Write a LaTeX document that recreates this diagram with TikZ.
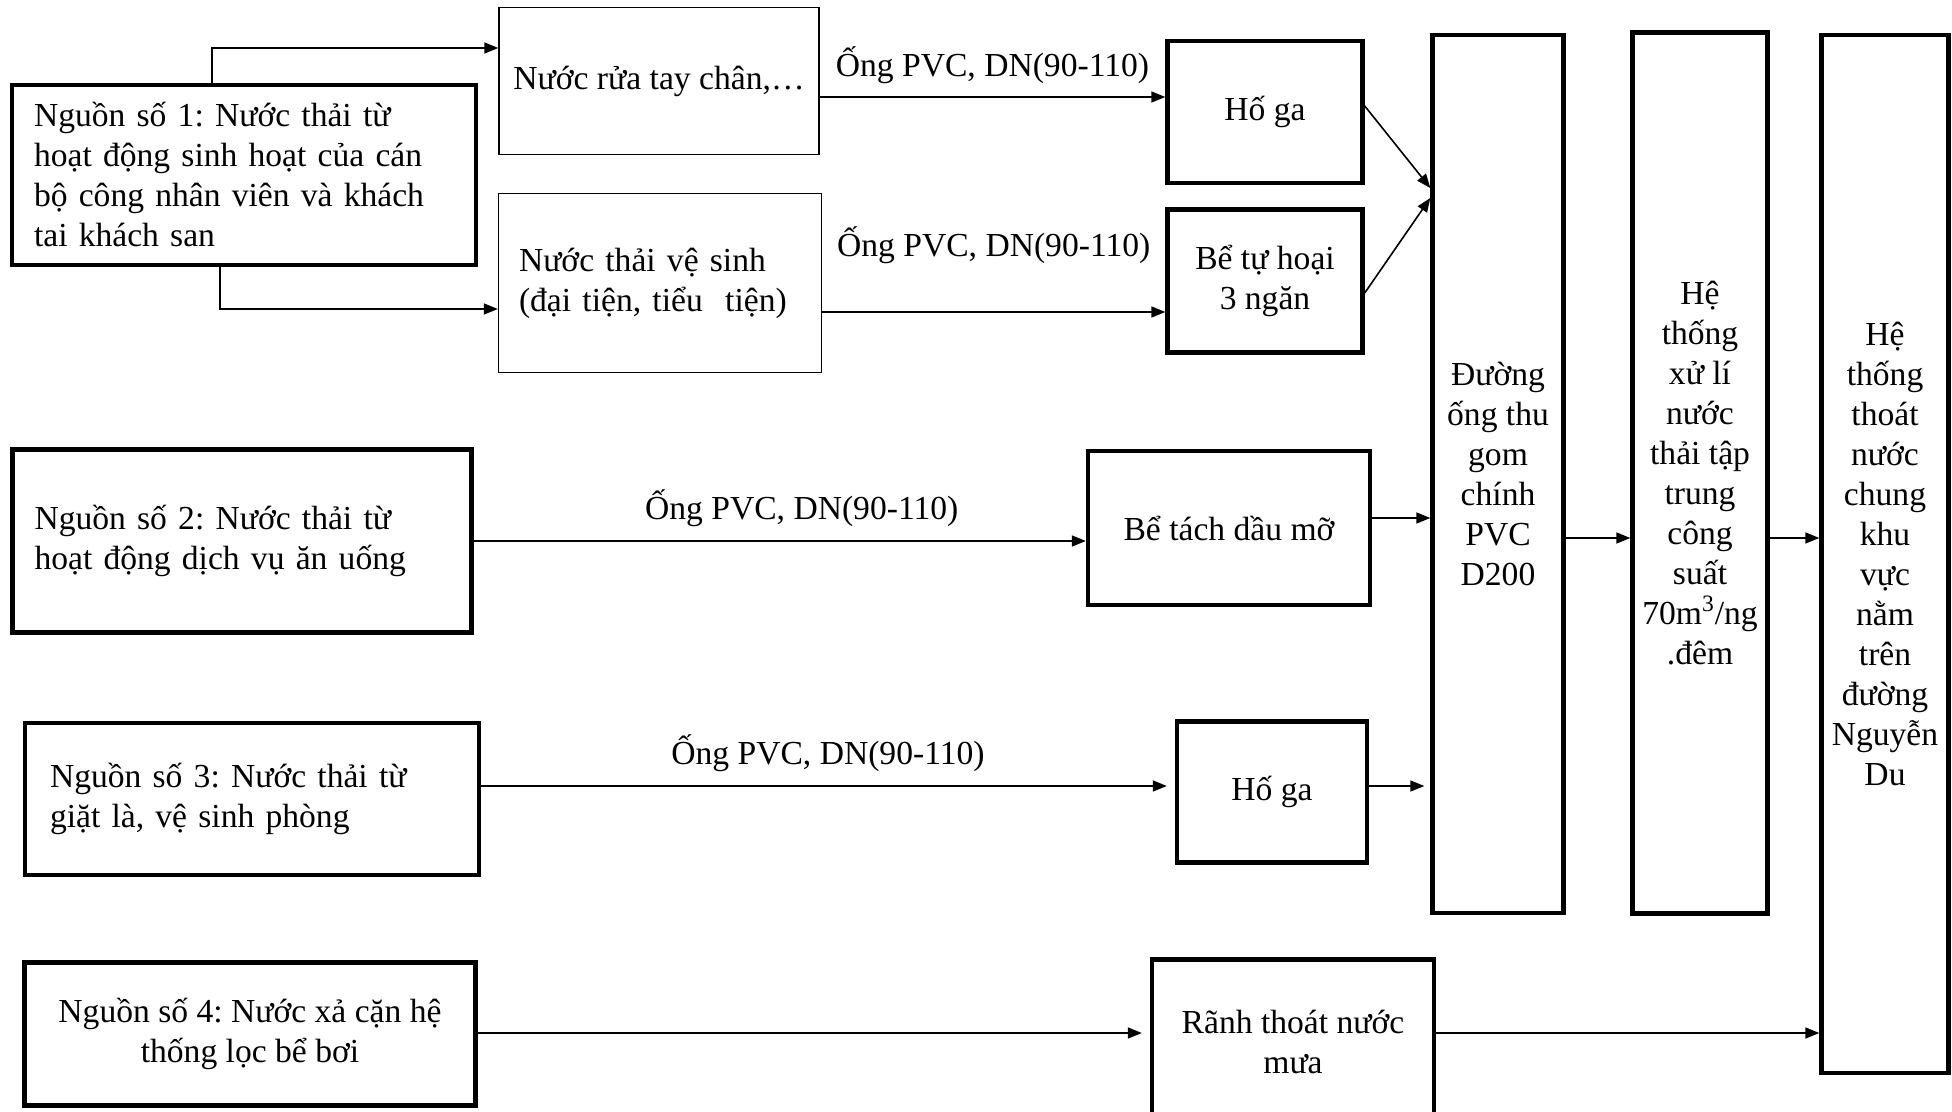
\documentclass[tikz,border=0pt]{standalone}
\usepackage{fontspec}
\setmainfont{Liberation Serif}
\usetikzlibrary{arrows.meta}
\frenchspacing

\begin{document}
\begin{tikzpicture}[x=0.5pt,y=-0.5pt,>={Triangle[length=7pt,width=5.5pt]},
	every node/.style={inner sep=0pt,font=\fontsize{16.8}{20}\selectfont},
	thickbox/.style={draw,line width=2.2pt},
	thinbox/.style={draw,line width=0.7pt},
	pipe/.style={->,line width=0.8pt}]
		\useasboundingbox (0,0) rectangle (1952,1112);
		%sources
		\node[thickbox,minimum width=232pt,minimum height=90pt,text width=210pt,align=left] (src1) at (244,175) {Nguồn số 1: Nước thải từ\\hoạt động sinh hoạt của cán\\bộ công nhân viên và khách\\tai khách san};
		\node[thickbox,minimum width=229.5pt,minimum height=91.5pt,text width=207.5pt,align=left] (src2) at (242,541) {Nguồn số 2: Nước thải từ\\hoạt động dịch vụ ăn uống};
		\node[thickbox,minimum width=227pt,minimum height=76pt,text width=202pt,align=left] (src3) at (252,799) {Nguồn số 3: Nước thải từ\\giặt là, vệ sinh phòng};
		\node[thickbox,minimum width=225.5pt,minimum height=71.5pt,align=center] (src4) at (250,1034) {Nguồn số 4: Nước xả cặn hệ\\thống lọc bể bơi};
		
		%first treatment
		\node[thinbox,minimum width=160pt,minimum height=73.5pt] (rua) at (659,81) {Nước rửa tay chân,…};
		\node[thinbox,minimum width=161.5pt,minimum height=89.5pt,text width=141pt,align=left] (vesinh) at (660,283) {Nước thải vệ sinh\\(đại tiện, tiểu~~tiện)};
		\node[thickbox,minimum width=97.5pt,minimum height=71pt] (hoga1) at (1265,112) {Hố ga};
		\node[thickbox,minimum width=97.5pt,minimum height=71.5pt,align=center] (tuhoai) at (1265,281) {Bể tự hoại\\3 ngăn};
		\node[thickbox,minimum width=141pt,minimum height=77pt] (tachdau) at (1229,528) {Bể tách dầu mỡ};
		\node[thickbox,minimum width=95pt,minimum height=70.5pt] (hoga2) at (1272,792) {Hố ga};
		\node[thickbox,minimum width=141pt,minimum height=82.5pt,align=center] (ranh) at (1293,1042) {Rãnh thoát nước\\mưa};
		
		%collection
		\node[thickbox,minimum width=65.5pt,minimum height=439pt,align=center] (ongthu) at (1498,474) {Đường\\ống thu\\gom\\chính\\PVC\\D200};
		\node[thickbox,minimum width=67.5pt,minimum height=440.5pt,align=center] (xuli) at (1700,473) {Hệ\\thống\\xử lí\\nước\\thải tập\\trung\\công\\suất\\70m\textsuperscript{3}/ng\\.đêm};
		\node[thickbox,minimum width=63.5pt,minimum height=519pt,align=center] (thoatnuoc) at (1885,554) {Hệ\\thống\\thoát\\nước\\chung\\khu\\vực\\nằm\\trên\\đường\\Nguyễn\\Du};
		
		%pipes
		\draw[pipe] (src1.north -| 212,0) |- (rua.west |- 0,48);
		\draw[pipe] (src1.south -| 220,0) |- (vesinh.west |- 0,309);
		\draw[pipe] (rua.east |- 0,97) -- (hoga1.west |- 0,97) node[midway,above=6pt] {Ống PVC, DN(90-110)};
		\draw[pipe] (vesinh.east |- 0,312) -- (tuhoai.west |- 0,312) node[midway,above=23.5pt] {Ống PVC, DN(90-110)};
		\draw[pipe] (hoga1.east |- 0,106) -- (ongthu.west |- 0,188);
		\draw[pipe] (tuhoai.east |- 0,293) -- (ongthu.west |- 0,198);
		\draw[pipe] (src2.east) -- (tachdau.west |- src2.east) node[midway,above=6.5pt,xshift=11pt] {Ống PVC, DN(90-110)};
		\draw[pipe] (tachdau.east |- 0,518) -- (ongthu.west |- 0,518);
		\draw[pipe,shorten >=4pt] (src3.east |- 0,786) -- (hoga2.west |- 0,786) node[midway,above=6.5pt] {Ống PVC, DN(90-110)};
		\draw[pipe,shorten >=3pt] (hoga2.east |- 0,786) -- (ongthu.west |- 0,786);
		\draw[pipe,shorten >=4pt] (src4.east |- 0,1033) -- (ranh.west |- 0,1033);
		\draw[pipe] (ranh.east |- 0,1033) -- (thoatnuoc.west |- 0,1033);
		\draw[pipe] (ongthu.east |- 0,538) -- (xuli.west |- 0,538);
		\draw[pipe] (xuli.east |- 0,538) -- (thoatnuoc.west |- 0,538);
		
		\end{tikzpicture}
\end{document}
